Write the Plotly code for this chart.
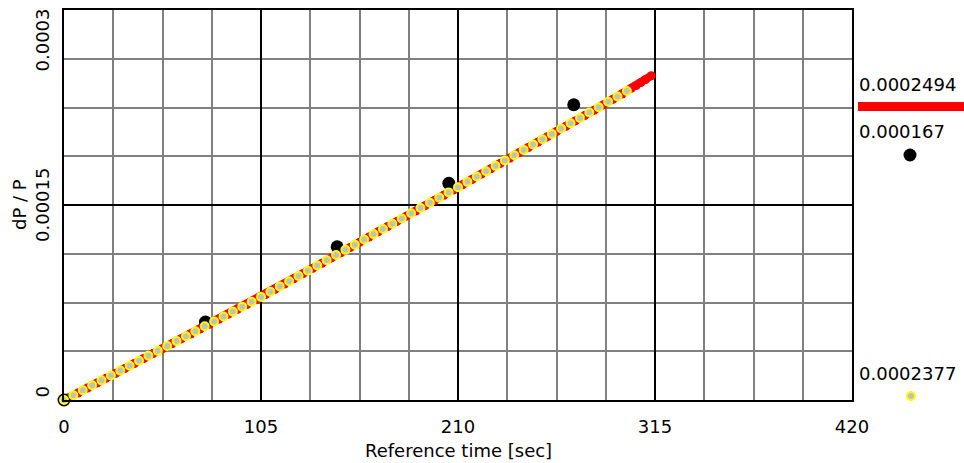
import plotly.graph_objects as go

# ---- data ----
yellow_t = [0, 5, 10, 15, 20, 25, 30, 35, 40, 45, 50, 55, 60, 65, 70, 75, 80, 85, 90, 95,
            100, 105, 110, 115, 120, 125, 130, 135, 140, 145, 150, 155, 160, 165, 170, 175,
            180, 185, 190, 195, 200, 205, 210, 215, 220, 225, 230, 235, 240, 245, 250, 255,
            260, 265, 270, 275, 280, 285, 290, 295, 300]
yellow_v_e5 = [0, 0.37, 0.75, 1.13, 1.51, 1.89, 2.26, 2.64, 3.02, 3.40, 3.78, 4.15, 4.53, 4.91,
               5.29, 5.67, 6.04, 6.42, 6.80, 7.18, 7.56, 7.93, 8.33, 8.74, 9.14, 9.54, 9.94,
               10.34, 10.75, 11.15, 11.55, 11.95, 12.35, 12.76, 13.16, 13.56, 13.96, 14.36,
               14.77, 15.17, 15.57, 15.97, 16.37, 16.78, 17.19, 17.60, 18.01, 18.42, 18.83,
               19.24, 19.65, 20.06, 20.47, 20.88, 21.29, 21.70, 22.11, 22.52, 22.94, 23.35, 23.77]

red_t = [0, 2.5, 7.5, 12.5, 17.5, 22.5, 27.5, 32.5, 37.5, 42.5, 47.5, 52.5, 57.5, 62.5, 67.5,
         72.5, 77.5, 82.5, 87.5, 92.5, 97.5, 102.5, 107.5, 112.5, 117.5, 122.5, 127.5, 132.5,
         137.5, 142.5, 147.5, 152.5, 157.5, 162.5, 167.5, 172.5, 177.5, 182.5, 187.5, 192.5,
         197.5, 202.5, 207.5, 212.5, 217.5, 222.5, 227.5, 232.5, 237.5, 242.5, 247.5, 252.5,
         257.5, 262.5, 267.5, 272.5, 277.5, 282.5, 287.5, 292.5, 297.5, 302.5, 305, 307.5,
         310, 313]
red_v_e5 = [0, 0.17, 0.54, 0.92, 1.30, 1.68, 2.05, 2.43, 2.81, 3.19, 3.57, 3.94, 4.32, 4.70,
            5.08, 5.46, 5.83, 6.21, 6.59, 6.97, 7.35, 7.72, 8.11, 8.51, 8.92, 9.32, 9.72,
            10.12, 10.52, 10.93, 11.33, 11.73, 12.13, 12.53, 12.94, 13.34, 13.74, 14.14,
            14.54, 14.95, 15.35, 15.75, 16.15, 16.55, 16.96, 17.37, 17.78, 18.19, 18.60,
            19.01, 19.42, 19.83, 20.24, 20.65, 21.06, 21.47, 21.88, 22.29, 22.71, 23.12,
            23.54, 23.99, 24.19, 24.42, 24.65, 24.94]

black_t = [0, 75.4, 145.6, 205.1, 271.7]
black_v_e5 = [0, 6.0, 11.78, 16.67, 22.71]

x_ticks = [0, 105, 210, 315, 420]
x_tick_text = ["0", "105", "210", "315", "420"]
y_ticks = [0, 0.00015, 0.0003]
y_tick_text = ["0", "0.00015", "0.0003"]

legend_red_text = "0.0002494"
legend_black_text = "0.000167"
legend_yellow_text = "0.0002377"

x_title = "Reference time [sec]"
y_title = "dP / P"

# ---- figure ----
yellow_v = [v * 1e-5 for v in yellow_v_e5]
red_v = [v * 1e-5 for v in red_v_e5]
black_v = [v * 1e-5 for v in black_v_e5]

FONT = "DejaVu Sans"
fig = go.Figure()

fig.add_trace(go.Scatter(
    x=red_t, y=red_v, mode="lines+markers",
    line=dict(color="#ff0000", width=8),
    marker=dict(color="#ff0000", size=9, symbol="circle"),
    cliponaxis=False, showlegend=False, hoverinfo="skip"))

fig.add_trace(go.Scatter(
    x=black_t, y=black_v, mode="markers",
    marker=dict(color="#000000", size=13),
    cliponaxis=False, showlegend=False, hoverinfo="skip"))

fig.add_trace(go.Scatter(
    x=yellow_t, y=yellow_v, mode="markers",
    marker=dict(color="#c0c0c0", size=8, line=dict(color="#ffff00", width=2)),
    cliponaxis=False, showlegend=False, hoverinfo="skip"))

W, H = 964, 463
ML, MR, MT, MB = 64, 112, 10, 63
PW = W - ML - MR
PH = H - MT - MB

def px_x(px):
    return (px - ML) / PW

def px_y(py):
    return (H - MB - py) / PH

fig.update_layout(
    width=W, height=H,
    margin=dict(l=ML, r=MR, t=MT, b=MB, pad=0, autoexpand=False),
    paper_bgcolor="white", plot_bgcolor="white",
    font=dict(family=FONT, size=18, color="black"),
    xaxis=dict(
        range=[0, 420], tickvals=x_ticks, ticktext=x_tick_text,
        showgrid=True, gridcolor="#000000", gridwidth=2,
        minor=dict(dtick=26.25, tick0=0, showgrid=True, gridcolor="#808080", gridwidth=2),
        showline=True, mirror=True, linecolor="#000000", linewidth=2,
        ticks="", ticklabelstandoff=9, zeroline=False, automargin=False,
    ),
    yaxis=dict(
        range=[0, 0.0003], tickvals=y_ticks, showticklabels=False,
        showgrid=True, gridcolor="#000000", gridwidth=2,
        minor=dict(dtick=0.0000375, tick0=0, showgrid=True, gridcolor="#808080", gridwidth=2),
        showline=True, mirror=True, linecolor="#000000", linewidth=2,
        ticks="", zeroline=False, automargin=False,
    ),
)

annotations = []
anchors = ["bottom", "middle", "top"]
shifts = [0, 0, 3]
for val, txt, anc, sh in zip(y_ticks, y_tick_text, anchors, shifts):
    annotations.append(dict(
        x=0, y=val, xref="paper", yref="y", text=txt, textangle=-90,
        showarrow=False, xanchor="center", yanchor=anc, xshift=-22, yshift=sh,
        font=dict(family=FONT, size=18, color="black")))
annotations.append(dict(
    x=0, y=0.00015, xref="paper", yref="y", text=y_title, textangle=-90,
    showarrow=False, xanchor="center", yanchor="middle", xshift=-45,
    font=dict(family=FONT, size=18, color="black")))
annotations.append(dict(
    x=0.5, y=px_y(450), xref="paper", yref="paper", text=x_title,
    showarrow=False, xanchor="center", yanchor="middle",
    font=dict(family=FONT, size=18, color="black")))

for txt, py in [(legend_red_text, 84), (legend_black_text, 131), (legend_yellow_text, 373)]:
    annotations.append(dict(
        x=px_x(857), y=px_y(py), xref="paper", yref="paper", text=txt,
        showarrow=False, xanchor="left", yanchor="middle",
        font=dict(family=FONT, size=18, color="black")))
fig.update_layout(annotations=annotations)

shapes = [
    dict(type="line", xref="paper", yref="paper",
         x0=px_x(858), x1=px_x(964), y0=px_y(106.5), y1=px_y(106.5),
         line=dict(color="#ff0000", width=9)),
    dict(type="circle", xref="paper", yref="paper",
         xsizemode="pixel", ysizemode="pixel",
         xanchor=px_x(910), yanchor=px_y(155),
         x0=-6.5, x1=6.5, y0=-6.5, y1=6.5,
         fillcolor="#000000", line=dict(color="#000000", width=0)),
    dict(type="circle", xref="paper", yref="paper",
         xsizemode="pixel", ysizemode="pixel",
         xanchor=px_x(911), yanchor=px_y(396),
         x0=-4, x1=4, y0=-4, y1=4,
         fillcolor="#c0c0c0", line=dict(color="#ffff00", width=2)),
]
fig.update_layout(shapes=shapes)

fig.write_html("out.html")
